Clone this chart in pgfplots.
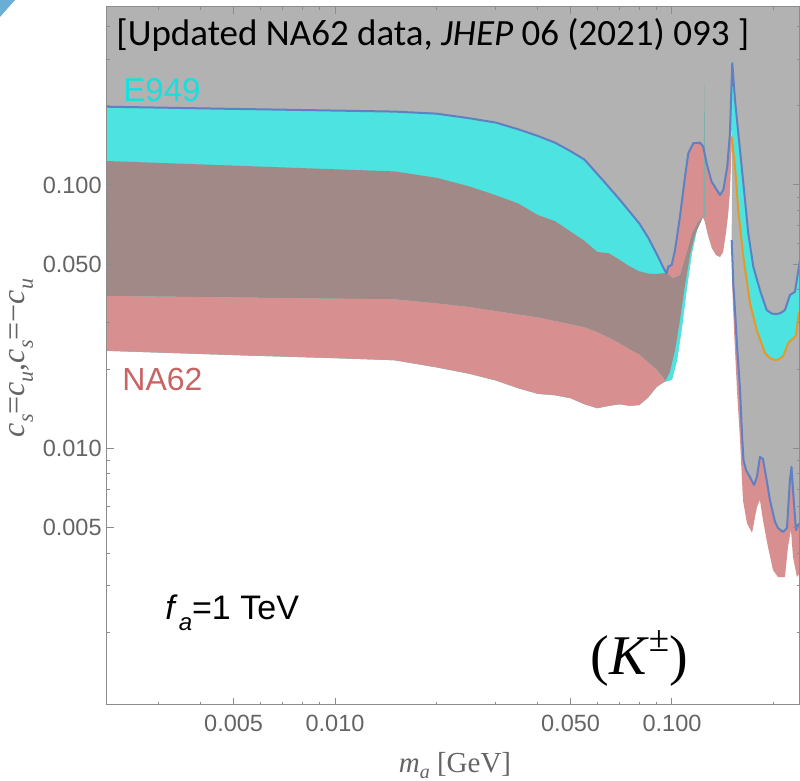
\documentclass[border=0pt]{standalone}
\usepackage{fontspec}
\setmainfont{Liberation Sans}
\newfontfamily\carlito{Carlito}
\newfontfamily\lserif{Liberation Serif}
\usepackage{pgfplots}
\pgfplotsset{compat=1.18}
\definecolor{gr}{HTML}{B2B2B2}
\definecolor{cy}{HTML}{4DE3E0}
\definecolor{br}{HTML}{A18987}
\definecolor{pk}{HTML}{D88F8F}
\definecolor{bl}{HTML}{5F80C2}
\definecolor{orng}{HTML}{E29B28}
\definecolor{teal}{HTML}{7FAFAA}
\definecolor{axgray}{HTML}{8C8C8C}
\definecolor{lblgray}{HTML}{646464}
\definecolor{etxt}{HTML}{14E0E0}
\definecolor{ntxt}{HTML}{C86464}
\definecolor{corner}{HTML}{6AAED6}
\begin{document}
\begin{tikzpicture}[x=1pt,y=1pt]
\begin{axis}[
  at={(53.5pt,38pt)}, anchor=south west, scale only axis,
  width=346.5pt, height=349pt,
  xmode=log, ymode=log,
  xmin=0.002105, xmax=0.2398, ymin=0.001059, ymax=0.4742,
  axis background/.style={fill=white},
  axis line style={draw=axgray, line width=0.5pt},
  tick style={draw=axgray, line width=0.5pt},
  tick align=inside,
  major tick length=3.5pt, minor tick length=1.75pt,
  xtick={0.005,0.01,0.05,0.1}, xticklabels={0.005,0.010,0.050,0.100},
  minor xtick={0.003,0.004,0.006,0.007,0.008,0.009,0.02,0.03,0.04,0.06,0.07,0.08,0.09,0.2},
  ytick={0.005,0.01,0.05,0.1}, yticklabels={0.005,0.010,0.050,0.100},
  minor ytick={0.002,0.003,0.004,0.006,0.007,0.008,0.009,0.02,0.03,0.04,0.06,0.07,0.08,0.09,0.2,0.3,0.4},
  ticklabel style={font=\fontsize{11.75}{14}\selectfont, text=lblgray},
  xticklabel style={inner sep=0pt, yshift=-5pt},
  yticklabel style={inner sep=0pt, xshift=-2.5pt},
  axis on top,
]
% gray excluded region
\addplot[fill=gr, draw=none] coordinates {
(0.002,0.6) (0.25,0.6) (0.25,0.0052)
(0.2398,0.00520) (0.2365,0.00511) (0.2333,0.00489) (0.2286,0.00694) (0.2263,0.00849) (0.2239,0.00758) (0.2194,0.00498) (0.2135,0.00481) (0.2063,0.00498) (0.2022,0.00525) (0.1953,0.00636) (0.1914,0.00745) (0.1862,0.00911) (0.1824,0.00927) (0.1787,0.00778) (0.1752,0.00725) (0.1704,0.00778) (0.1658,0.00827) (0.1630,0.00902) (0.1613,0.0114) (0.1592,0.0167) (0.1559,0.0247) (0.1538,0.0335) (0.1520,0.0425) (0.1504,0.0618)
(0.1507,0.16) (0.1499,0.16) (0.1500,0.1358)
(0.1486,0.0957) (0.1466,0.0769) (0.1446,0.0663) (0.1417,0.0557) (0.1388,0.0533) (0.1351,0.0542) (0.1314,0.0576) (0.1279,0.0646) (0.1253,0.0724) (0.1236,0.0756)
(0.1186,0.0675) (0.1146,0.0552) (0.1108,0.0410) (0.1071,0.0289) (0.1035,0.0216) (0.1,0.0182) (0.0953,0.0179)
(0.095,0.0179) (0.09,0.0171) (0.085,0.0156) (0.08,0.0146) (0.075,0.0145) (0.07,0.0147) (0.065,0.0145) (0.06,0.0142) (0.055,0.0147) (0.05,0.0155) (0.045,0.0159) (0.04,0.0161) (0.035,0.0169) (0.03,0.0181) (0.025,0.0192) (0.02,0.0203) (0.015,0.0216) (0.01,0.0220) (0.007,0.0223) (0.005,0.0226) (0.003,0.0231) (0.002,0.0235)
};
% cyan band (E949), left part
\addplot[fill=cy, draw=none] coordinates {
(0.002,0.1985) (0.003,0.1968) (0.005,0.1945) (0.007,0.1932) (0.01,0.1917) (0.015,0.1900) (0.02,0.1866) (0.025,0.1793) (0.03,0.1726) (0.035,0.1627) (0.04,0.1535) (0.045,0.1447) (0.05,0.1344) (0.055,0.1248) (0.06,0.1102) (0.065,0.0981) (0.07,0.0879) (0.075,0.0790) (0.08,0.0714) (0.085,0.0631) (0.09,0.0548) (0.095,0.0476) (0.0964,0.0462)
(0.1007,0.0443) (0.1056,0.0455) (0.1100,0.0542) (0.1146,0.0657) (0.1194,0.0724) (0.1236,0.0756)
(0.1186,0.0675) (0.1146,0.0552) (0.1108,0.0410) (0.1071,0.0289) (0.1035,0.0216) (0.1,0.0182) (0.0953,0.0179)
(0.095,0.0179) (0.09,0.0171) (0.085,0.0156) (0.08,0.0146) (0.075,0.0145) (0.07,0.0147) (0.065,0.0145) (0.06,0.0142) (0.055,0.0147) (0.05,0.0155) (0.045,0.0159) (0.04,0.0161) (0.035,0.0169) (0.03,0.0181) (0.025,0.0192) (0.02,0.0203) (0.015,0.0216) (0.01,0.0220) (0.007,0.0223) (0.005,0.0226) (0.003,0.0231) (0.002,0.0235)
};
% brown overlap
\addplot[fill=br, draw=none] coordinates {
(0.002,0.1236) (0.003,0.1213) (0.005,0.1185) (0.007,0.1166) (0.01,0.1147) (0.015,0.1126) (0.02,0.1065) (0.025,0.0988) (0.03,0.0914) (0.035,0.0850) (0.04,0.0769) (0.045,0.0728) (0.05,0.0666) (0.055,0.0613) (0.06,0.0557) (0.065,0.0550) (0.07,0.0519) (0.075,0.0490) (0.08,0.0470) (0.085,0.0461) (0.09,0.0459) (0.095,0.0463) (0.0966,0.0463)
(0.1007,0.0443) (0.1056,0.0455) (0.1100,0.0542) (0.1146,0.0657) (0.1194,0.0724) (0.1236,0.0756)
(0.1211,0.0717) (0.1170,0.0646) (0.1131,0.0542) (0.1093,0.0417) (0.1056,0.0307) (0.1021,0.0236) (0.0986,0.0195) (0.0953,0.0179)
(0.095,0.0183) (0.09,0.0199) (0.085,0.0212) (0.08,0.0227) (0.075,0.0237) (0.07,0.0250) (0.065,0.0263) (0.06,0.0276) (0.055,0.0288) (0.05,0.0296) (0.045,0.0304) (0.04,0.0314) (0.035,0.0322) (0.03,0.0332) (0.025,0.0344) (0.02,0.0355) (0.015,0.0368) (0.01,0.0370) (0.007,0.0372) (0.005,0.0374) (0.003,0.0377) (0.002,0.0379)
};
% pink band (NA62), left part
\addplot[fill=pk, draw=none] coordinates {
(0.002,0.0379) (0.003,0.0377) (0.005,0.0374) (0.007,0.0372) (0.01,0.0370) (0.015,0.0368) (0.02,0.0355) (0.025,0.0344) (0.03,0.0332) (0.035,0.0322) (0.04,0.0314) (0.045,0.0304) (0.05,0.0296) (0.055,0.0288) (0.06,0.0276) (0.065,0.0263) (0.07,0.0250) (0.075,0.0237) (0.08,0.0227) (0.085,0.0212) (0.09,0.0199) (0.095,0.0183) (0.0953,0.0179)
(0.095,0.0179) (0.09,0.0171) (0.085,0.0156) (0.08,0.0146) (0.075,0.0145) (0.07,0.0147) (0.065,0.0145) (0.06,0.0142) (0.055,0.0147) (0.05,0.0155) (0.045,0.0159) (0.04,0.0161) (0.035,0.0169) (0.03,0.0181) (0.025,0.0192) (0.02,0.0203) (0.015,0.0216) (0.01,0.0220) (0.007,0.0223) (0.005,0.0226) (0.003,0.0231) (0.002,0.0235)
};
% pink peak
\addplot[fill=pk, draw=none] coordinates {
(0.0964,0.0462) (0.0975,0.0490) (0.0998,0.0497) (0.1021,0.0566) (0.1056,0.0758) (0.1093,0.1075) (0.1118,0.1319) (0.1157,0.1440) (0.1211,0.1448) (0.1238,0.1398) (0.1268,0.1202) (0.1311,0.1029) (0.1388,0.0916) (0.1420,0.0957) (0.1459,0.1174) (0.1486,0.1576) (0.1497,0.2103)
(0.1500,0.1358) (0.1486,0.0957) (0.1466,0.0769) (0.1446,0.0663) (0.1417,0.0557) (0.1388,0.0533) (0.1351,0.0542) (0.1314,0.0576) (0.1279,0.0646) (0.1253,0.0724) (0.1236,0.0756)
(0.1194,0.0724) (0.1146,0.0657) (0.1100,0.0542) (0.1056,0.0455) (0.1007,0.0443) (0.0966,0.0463)
};
% thin spike
\addplot[fill=teal, draw=none] coordinates {(0.1238,0.0756) (0.1249,0.244) (0.1258,0.0756)};
% cyan band, right part
\addplot[fill=cy, draw=none] coordinates {
(0.1504,0.1525) (0.1504,0.2103) (0.1510,0.2900) (0.1538,0.2103) (0.1573,0.1576) (0.1610,0.1174) (0.1647,0.0877) (0.1684,0.0657) (0.1743,0.0490) (0.1824,0.0399) (0.1910,0.0335) (0.1976,0.0325) (0.2045,0.0323) (0.2106,0.0327) (0.2164,0.0335) (0.2239,0.0382) (0.2317,0.0393) (0.2381,0.0490) (0.2398,0.0519) (0.25,0.0519) (0.25,0.0335)
(0.2398,0.0335) (0.2370,0.0316) (0.2333,0.0267) (0.2291,0.0262) (0.2213,0.0251) (0.2139,0.0224) (0.2078,0.0218) (0.2022,0.0216) (0.1953,0.0220) (0.1888,0.0230) (0.1784,0.0281) (0.1704,0.0356) (0.1628,0.0534) (0.1573,0.0804) (0.1538,0.1174)
};
% pink band, right part
\addplot[fill=pk, draw=none] coordinates {
(0.1507,0.0436) (0.1528,0.0281) (0.1559,0.0167) (0.1592,0.01075) (0.1624,0.00636) (0.1669,0.00520) (0.1728,0.00477) (0.1787,0.00598) (0.1824,0.00636) (0.1862,0.00534) (0.1927,0.00422) (0.1994,0.00345) (0.2063,0.00324) (0.2164,0.00324) (0.2209,0.00422) (0.2255,0.00489) (0.2286,0.00387) (0.2349,0.00324) (0.2398,0.00336) (0.25,0.00336) (0.25,0.0052)
(0.2398,0.00520) (0.2365,0.00511) (0.2333,0.00489) (0.2286,0.00694) (0.2263,0.00849) (0.2239,0.00758) (0.2194,0.00498) (0.2135,0.00481) (0.2063,0.00498) (0.2022,0.00525) (0.1953,0.00636) (0.1914,0.00745) (0.1862,0.00911) (0.1824,0.00927) (0.1787,0.00778) (0.1752,0.00725) (0.1704,0.00778) (0.1658,0.00827) (0.1630,0.00902) (0.1613,0.0114) (0.1592,0.0167) (0.1559,0.0247) (0.1538,0.0335) (0.1520,0.0425)
};
% boundary lines
\addplot[draw=bl, line width=1pt, line join=round] coordinates {
(0.002,0.1985) (0.003,0.1968) (0.005,0.1945) (0.007,0.1932) (0.01,0.1917) (0.015,0.1900) (0.02,0.1866) (0.025,0.1793) (0.03,0.1726) (0.035,0.1627) (0.04,0.1535) (0.045,0.1447) (0.05,0.1344) (0.055,0.1248) (0.06,0.1102) (0.065,0.0981) (0.07,0.0879) (0.075,0.0790) (0.08,0.0714) (0.085,0.0631) (0.09,0.0548) (0.095,0.0476) (0.0964,0.0462)
(0.0975,0.0490) (0.0998,0.0497) (0.1021,0.0566) (0.1056,0.0758) (0.1093,0.1075) (0.1118,0.1319) (0.1157,0.1440) (0.1211,0.1448) (0.1238,0.1398) (0.1268,0.1202) (0.1311,0.1029) (0.1388,0.0916) (0.1420,0.0957) (0.1459,0.1174) (0.1486,0.1576) (0.1497,0.2103) (0.1510,0.2900)
(0.1538,0.2103) (0.1573,0.1576) (0.1610,0.1174) (0.1647,0.0877) (0.1684,0.0657) (0.1743,0.0490) (0.1824,0.0399) (0.1910,0.0335) (0.1976,0.0325) (0.2045,0.0323) (0.2106,0.0327) (0.2164,0.0335) (0.2239,0.0382) (0.2317,0.0393) (0.2381,0.0490) (0.2398,0.0519)
};
\addplot[draw=bl, line width=1pt, line join=round] coordinates {
(0.1504,0.0618) (0.1520,0.0425) (0.1538,0.0335) (0.1559,0.0247) (0.1592,0.0167) (0.1613,0.0114) (0.1630,0.00902) (0.1658,0.00827) (0.1704,0.00778) (0.1752,0.00725) (0.1787,0.00778) (0.1824,0.00927) (0.1862,0.00911) (0.1914,0.00745) (0.1953,0.00636) (0.2022,0.00525) (0.2063,0.00498) (0.2135,0.00481) (0.2194,0.00498) (0.2239,0.00758) (0.2263,0.00849) (0.2286,0.00694) (0.2333,0.00489) (0.2365,0.00511) (0.2398,0.00520)
};
\addplot[draw=orng, line width=1pt, line join=round] coordinates {
(0.1504,0.1525) (0.1538,0.1174) (0.1573,0.0804) (0.1628,0.0534) (0.1704,0.0356) (0.1784,0.0281) (0.1888,0.0230) (0.1953,0.0220) (0.2022,0.0216) (0.2078,0.0218) (0.2139,0.0224) (0.2213,0.0251) (0.2291,0.0262) (0.2333,0.0267) (0.2370,0.0316) (0.2398,0.0335)
};
\end{axis}
% annotations
\fill[corner] (0,390.5) -- (7.5,390.5) -- (0,382) -- cycle;
\node[anchor=base west, inner sep=0pt] at (58,367.5) {\carlito\fontsize{18.5}{21}\selectfont [Updated NA62 data, \textit{JHEP} 06 (2021) 093 ]};
\node[anchor=base west, inner sep=0pt, text=etxt] at (61.5,339.5) {\fontsize{16.5}{19}\selectfont E949};
\node[anchor=base west, inner sep=0pt, text=ntxt] at (61,195) {\fontsize{16}{19}\selectfont NA62};
\node[anchor=base west, inner sep=0pt] at (82.5,80.5) {\fontsize{17}{20}\selectfont \textit{f}\kern0.5pt\raisebox{-0.3em}{\fontsize{12}{14}\selectfont\textit{a}}=1 TeV};
\node[anchor=base west, inner sep=0pt] at (295,53) {\lserif\fontsize{28}{32}\selectfont (\textit{K}\raisebox{0.42em}{\fontsize{18.5}{21}\selectfont ±})};
\node[anchor=base, inner sep=0pt, text=lblgray] at (227.5,4) {\lserif\fontsize{14.5}{17}\selectfont \textit{m}\raisebox{-0.2em}{\fontsize{10}{12}\selectfont\textit{a}} [GeV]};
\node[rotate=90, anchor=base, inner sep=0pt, text=lblgray] at (12.5,211.5) {\lserif\fontsize{16}{18}\selectfont \textit{c}\raisebox{-0.25em}{\fontsize{11}{13}\selectfont\textit{s}}=\textit{c}\raisebox{-0.25em}{\fontsize{11}{13}\selectfont\textit{u}},\textit{c}\raisebox{-0.25em}{\fontsize{11}{13}\selectfont\textit{s}}=\textminus\textit{c}\raisebox{-0.25em}{\fontsize{11}{13}\selectfont\textit{u}}};
\pgfresetboundingbox
\path[use as bounding box] (0,0) rectangle (400,390.5);
\end{tikzpicture}
\end{document}
